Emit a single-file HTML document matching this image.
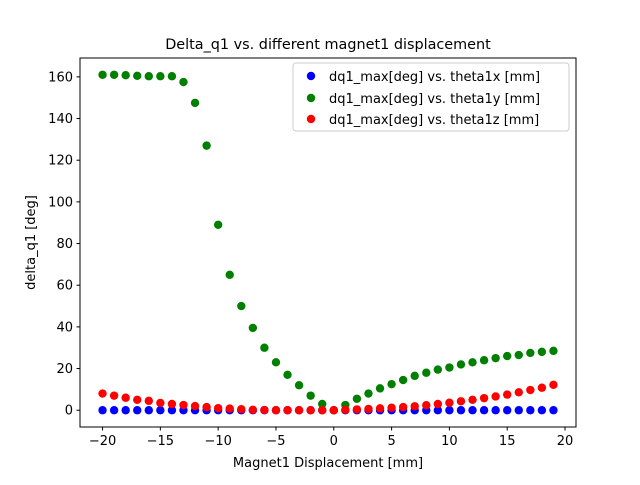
<!DOCTYPE html>
<html><head><meta charset="utf-8"><style>
body{margin:0;background:#fff}
svg text{font-family:"DejaVu Sans","Liberation Sans",sans-serif;fill:#000}
</style></head><body>
<svg id="chart" width="640" height="480" xmlns="http://www.w3.org/2000/svg">
<rect width="640" height="480" fill="#fff"/>
<text x="328" y="49" font-size="14.4" text-anchor="middle">Delta_q1 vs. different magnet1 displacement</text>
<g id="marks"></g>
<rect x="80" y="58" width="496" height="369" fill="none" stroke="#000" stroke-width="1"/>
<g id="xticks"></g><g id="yticks"></g>
<text x="328" y="467" font-size="13" text-anchor="middle">Magnet1 Displacement [mm]</text>
<text transform="translate(35,242.5) rotate(-90)" font-size="13" text-anchor="middle">delta_q1 [deg]</text>
<g>
<rect x="293" y="63" width="276" height="68" rx="3" fill="#fff" fill-opacity="0.8" stroke="#ccc"/>
<circle cx="311" cy="76" r="4.2" fill="blue"/><text x="329" y="81" font-size="13">dq1_max[deg] vs. theta1x [mm]</text>
<circle cx="311" cy="98" r="4.2" fill="green"/><text x="329" y="103" font-size="13">dq1_max[deg] vs. theta1y [mm]</text>
<circle cx="311" cy="119" r="4.2" fill="red"/><text x="329" y="124" font-size="13">dq1_max[deg] vs. theta1z [mm]</text>
</g>
</svg>
<script>
const xValues=[-20,-19,-18,-17,-16,-15,-14,-13,-12,-11,-10,-9,-8,-7,-6,-5,-4,-3,-2,-1,0,1,2,3,4,5,6,7,8,9,10,11,12,13,14,15,16,17,18,19];
const seriesX=[0,0,0,0,0,0,0,0,0,0,0,0,0,0,0,0,0,0,0,0,0,0,0,0,0,0,0,0,0,0,0,0,0,0,0,0,0,0,0,0];
const seriesY=[161,161,160.8,160.5,160.3,160.3,160.3,157.5,147.5,127,89,65,50,39.5,30,23,17,12,7,3,0,2.5,5.5,8,10.5,12.5,14.5,16.5,18,19.5,20.5,22,23,24,25,26,26.5,27.5,28,28.5];
const seriesZ=[8,7,6,5,4.5,3.5,3,2.5,2,1.5,1,0.8,0.5,0.2,0.1,0,0,0,0,0,0,0.2,0.4,0.6,0.9,1.2,1.5,1.9,2.4,3,3.6,4.3,5,5.8,6.6,7.5,8.6,9.7,10.8,12.2];
const xTicks=[-20,-15,-10,-5,0,5,10,15,20];
const yTicks=[0,20,40,60,80,100,120,140,160];
const NS="http://www.w3.org/2000/svg";
const x0=-21.95,x1=20.95,y0=-8.05,y1=169.05;
const sx=v=>80+(v-x0)/(x1-x0)*496;
const sy=v=>427-(v-y0)/(y1-y0)*369;
function mk(t,a,p){const e=document.createElementNS(NS,t);for(const k in a)e.setAttribute(k,a[k]);p.appendChild(e);return e;}
const marks=document.getElementById('marks');
[[seriesX,'blue','x'],[seriesY,'green','y'],[seriesZ,'red','z']].forEach(([s,c,n])=>{
 s.forEach((v,i)=>{const e=mk('circle',{cx:sx(xValues[i]),cy:sy(v),r:4.2,fill:c},marks);
 
 });
});
const xt=document.getElementById('xticks');
xTicks.forEach(t=>{const X=sx(t);mk('line',{x1:X,x2:X,y1:427,y2:430.5,stroke:'#000'},xt);
 const e=mk('text',{x:X,y:445,'font-size':13,'text-anchor':'middle'},xt);e.textContent=t<0?'\u2212'+(-t):t;
 
 });
const yt=document.getElementById('yticks');
yTicks.forEach(t=>{const Y=sy(t);mk('line',{x1:76.5,x2:80,y1:Y,y2:Y,stroke:'#000'},yt);
 const e=mk('text',{x:73,y:Y+4.5,'font-size':13,'text-anchor':'end'},yt);e.textContent=t;
 
 });
</script>
</body></html>
